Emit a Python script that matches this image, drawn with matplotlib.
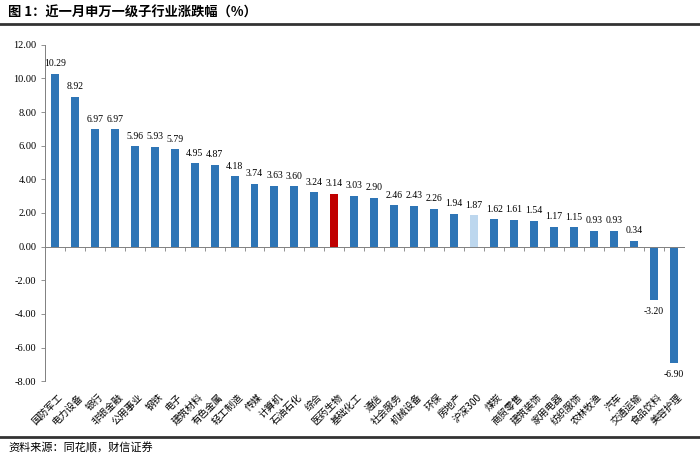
import matplotlib.pyplot as plt
import matplotlib.transforms as mtransforms

plt.rcParams['font.family'] = ['Liberation Serif', 'Noto Sans CJK SC', 'DejaVu Sans']

industries = ['国防军工', '电力设备', '银行', '非银金融', '公用事业', '钢铁', '电子', '建筑材料',
              '有色金属', '轻工制造', '传媒', '计算机', '石油石化', '综合', '医药生物', '基础化工',
              '通信', '社会服务', '机械设备', '环保', '房地产', '沪深300', '煤炭', '商贸零售',
              '建筑装饰', '家用电器', '纺织服饰', '农林牧渔', '汽车', '交通运输', '食品饮料', '美容护理']
changes = [10.29, 8.92, 6.97, 6.97, 5.96, 5.93, 5.79, 4.95, 4.87, 4.18, 3.74, 3.63, 3.60, 3.24,
           3.14, 3.03, 2.90, 2.46, 2.43, 2.26, 1.94, 1.87, 1.62, 1.61, 1.54, 1.17, 1.15, 0.93,
           0.93, 0.34, -3.20, -6.90]
yticks = [-8, -6, -4, -2, 0, 2, 4, 6, 8, 10, 12]

colors = []
for name in industries:
    if name == '医药生物':
        colors.append('#C00000')
    elif name == '沪深300':
        colors.append('#BDD7EE')
    else:
        colors.append('#2E75B6')

fig = plt.figure(figsize=(7, 4.62), dpi=100)
ax = fig.add_axes([0.064, 0.175, 0.913, 0.728])

x = list(range(len(industries)))
ax.bar(x, changes, width=0.4, color=colors, zorder=2)

ax.set_xlim(-0.5, len(industries) - 0.5)
ax.set_ylim(-8, 12)
ax.set_yticks(yticks)
ax.set_yticklabels(['%.2f' % v for v in yticks], fontsize=7.5)
ax.tick_params(axis='y', length=3, width=0.6, color='#808080', pad=3)

for s in ['top', 'right']:
    ax.spines[s].set_visible(False)
ax.spines['left'].set_color('#808080')
ax.spines['left'].set_linewidth(0.7)
ax.spines['bottom'].set_position(('data', 0))
ax.spines['bottom'].set_color('#808080')
ax.spines['bottom'].set_linewidth(0.7)
ax.set_xticks([i + 0.5 for i in x[:-1]])
ax.set_xticklabels([])
ax.tick_params(axis='x', length=3, width=0.6, color='#808080', direction='out')

# value labels
for i, v in zip(x, changes):
    if v >= 0:
        ax.annotate('%.2f' % v, (i, v), xytext=(0, 4), textcoords='offset points',
                    ha='center', va='bottom', fontsize=7)
    else:
        ax.annotate('%.2f' % v, (i, v), xytext=(0, -5), textcoords='offset points',
                    ha='center', va='top', fontsize=7)

# category labels along the bottom
trans = mtransforms.blended_transform_factory(ax.transData, ax.transAxes)
for i, name in zip(x, industries):
    ax.annotate(name, (i + 0.15, 0), xycoords=trans, xytext=(0, -8), textcoords='offset points',
                rotation=45, rotation_mode='anchor', ha='right', va='top', fontsize=7,
                family=['Noto Sans CJK SC', 'Liberation Serif'])

# title and source
fig.text(0.012, 0.972, '图 1：近一月申万一级子行业涨跌幅（%）', fontsize=9.5, fontweight='bold',
         va='center', ha='left', family=['Noto Sans CJK SC'])
fig.add_artist(plt.Line2D([0, 1], [0.948, 0.948], color='#333333', lw=2))
fig.add_artist(plt.Line2D([0, 1], [0.054, 0.054], color='#333333', lw=2))
fig.text(0.012, 0.030, '资料来源：同花顺，财信证券', fontsize=8, style='italic',
         va='center', ha='left', family=['Noto Sans CJK SC'])

fig.savefig('out.png', dpi=100)
